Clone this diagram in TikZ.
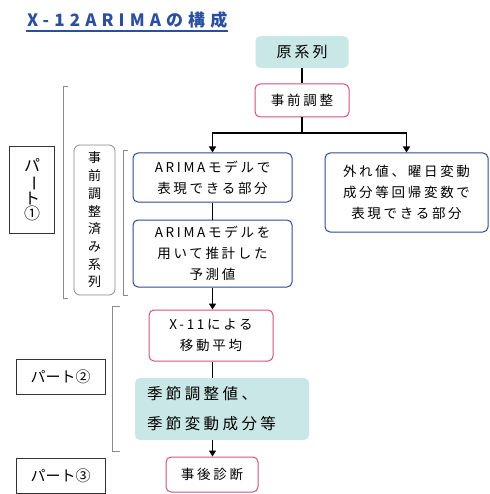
\documentclass[tikz,border=0pt]{standalone}
\usepackage{fontspec}
\usepackage{graphicx}
\setmainfont{Noto Sans CJK JP}
\usetikzlibrary{arrows.meta}
\definecolor{mint}{HTML}{C9E7E6}
\definecolor{rose}{HTML}{D6517D}
\definecolor{navy}{HTML}{2F4A8F}
\definecolor{titleblue}{HTML}{2A4FA0}
\definecolor{brkgray}{HTML}{8A8A8A}

\begin{document}
\begin{tikzpicture}[x=1pt,y=-1pt,
  box/.style={rounded corners=5pt,align=center,inner sep=0pt,font=\fontsize{13.5}{21}\selectfont\addfontfeatures{LetterSpace=20}},
  pinkbox/.style={box,draw=rose,line width=1pt},
  bluebox/.style={box,draw=navy,line width=1pt},
  mintbox/.style={box,fill=mint},
  partbox/.style={draw=black!80,line width=1pt,inner sep=0pt,align=center,font=\fontsize{15}{15}\selectfont},
  arr/.style={line width=1.8pt,-{Triangle[length=6pt,width=7pt]}},
  link/.style={line width=1.8pt},
  brk/.style={draw=brkgray,line width=0.8pt}]
\fill[white] (0,0) rectangle (489,494);
% title
\node[anchor=south west,inner sep=1pt,text=titleblue,font=\fontsize{17}{17}\bfseries\addfontfeatures{LetterSpace=30}] (title) at (26,30) {X-12ARIMAの構成};
\draw[titleblue,line width=1.6pt] ([yshift=-1pt]title.south west) -- ([yshift=-1pt]title.south east);
% flow boxes
\node[mintbox,minimum width=93pt,minimum height=32pt,font=\fontsize{15}{15}\selectfont\addfontfeatures{LetterSpace=20}] (orig) at (302,52) {原系列};
\node[pinkbox,minimum width=94pt,minimum height=33pt] (pre) at (302,100.5) {事前調整};
\node[bluebox,minimum width=159pt,minimum height=49pt] (arima1) at (212.5,177.5) {ARIMAモデルで\\表現できる部分};
\node[bluebox,minimum width=159pt,minimum height=67pt] (arima2) at (212.5,253.5) {ARIMAモデルを\\用いて推計した\\予測値};
\node[bluebox,minimum width=163pt,minimum height=79pt] (reg) at (406.5,192.5) {外れ値、曜日変動\\成分等回帰変数で\\表現できる部分};
\node[pinkbox,minimum width=124pt,minimum height=51pt] (x11) at (211,335.5) {X-11による\\移動平均};
\node[mintbox,align=left,text width=150pt,inner xsep=12pt,minimum height=62pt,font=\fontsize{15.5}{30}\selectfont\addfontfeatures{LetterSpace=22}] (sa) at (222,409) {季節調整値、\\季節変動成分等};
\node[pinkbox,minimum width=92pt,minimum height=35pt] (diag) at (212,474.5) {事後診断};
% side labels
\node[partbox,minimum width=45pt,minimum height=86pt,font=\fontsize{16}{15}\selectfont] (part1) at (32,190) {パ\\\rotatebox[origin=c]{-90}{ー}\\ト\\①};
\node[rounded corners=6pt,draw=brkgray,line width=0.8pt,inner sep=0pt,align=center,minimum width=41pt,minimum height=150pt,font=\fontsize{13}{17.7}\selectfont] (adj) at (94.5,220) {事\\前\\調\\整\\済\\み\\系\\列};
\node[partbox,minimum width=89pt,minimum height=35pt] (part2) at (60.5,376.5) {パート②};
\node[partbox,minimum width=89pt,minimum height=35pt] (part3) at (60.5,475.5) {パート③};
% brackets
\draw[brk] (68,86) -- (63,86) -- (63,298) -- (68,298);
\draw[brk] (128,150) -- (123,150) -- (123,295) -- (128,295);
\draw[brk] (120,306) -- (112,306) -- (112,451) -- (120,451);
% connectors
\coordinate (split) at (302,133);
\draw[link] (orig) -- (pre);
\draw[link] (pre) -- (split);
\draw[arr] (split) -| (arima1.north);
\draw[arr] (split) -| (reg.north);
\draw[link] (arima1) -- (arima2);
\draw[arr] (arima2.south) -- (x11.north -| arima2.south);
\draw[link] (x11.south -| arima2.south) -- (sa.north -| arima2.south);
\draw[arr] (sa.south -| arima2.south) -- (diag.north -| arima2.south);
\end{tikzpicture}
\end{document}
